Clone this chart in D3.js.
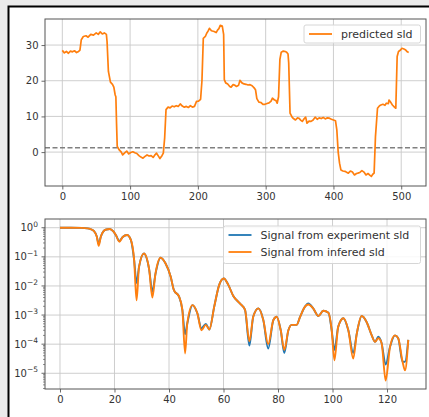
<!DOCTYPE html>
<html lang="en">

<head>
    <meta charset="UTF-8">
    <title>predicted sld</title>
    <style>
        * {
            margin: 0;
            padding: 0;
        }

        html,
        body {
            overflow: hidden;
            background: #ebebeb;
        }
    </style>
</head>

<body>
    <div id="chart"></div>
    <script src="https://cdn.jsdelivr.net/npm/d3@7"></script>
    <script>
        // top panel: predicted sld profile (sampled along the layer index)
        const sldIdx = [0, 3, 6, 9, 12, 15, 18, 21, 24, 26, 28, 31, 35, 38, 42, 46, 50, 53, 56, 59, 62, 65, 66, 68, 71, 74, 76, 78, 79, 80,
            81, 84, 87, 89, 92, 95, 98, 101, 104, 107, 110, 113, 116, 119, 122, 125, 128, 131, 134, 137, 139, 142, 144, 147, 149, 151,
            153, 156, 159, 162, 165, 168, 171, 174, 177, 180, 183, 186, 189, 192, 195, 198, 201, 204, 206, 208, 211, 213, 215, 217, 220,
            224, 227, 229, 231, 233, 236, 238, 239, 241, 244, 247, 249, 252, 254, 257, 260, 262, 265, 268, 271, 274, 277, 280, 283, 285,
            287, 290, 293, 296, 299, 302, 305, 308, 310, 313, 315, 317, 319, 321, 323, 326, 329, 331, 333, 334, 336, 339, 341, 344, 347,
            349, 352, 354, 357, 359, 361, 364, 367, 370, 373, 376, 379, 382, 385, 388, 391, 394, 397, 400, 403, 405, 407, 409, 411, 414,
            417, 420, 422, 425, 428, 431, 434, 436, 439, 442, 445, 448, 451, 454, 456, 458, 460, 462, 465, 468, 470, 473, 476, 478, 481,
            482, 485, 487, 490, 492, 494, 496, 499, 501, 504, 506, 509, 511]
        const sldVal = [28.5, 27.8, 28.2, 27.7, 28.3, 28.1, 28.4, 27.9, 28.2, 28.6, 31.5, 32.4, 32.6, 32.2, 33.0, 32.8, 33.4, 33.0, 33.7, 33.1,
            33.4, 33.0, 31.0, 22.6, 19.6, 19.0, 18.2, 16.0, 15.5, 8.0,
            1.6, 0.6, 0.0, -0.8, -0.2, 0.3, -0.5, -0.1, 0.1, -0.2, -0.4, -1.0, -1.4, -1.7, -1.2, -0.8, -1.1, -1.0, -1.5, -0.7, -0.3,
            -1.2, -1.8, -1.0, -0.3, 4.0,
            11.9, 12.6, 12.4, 12.9, 12.7, 13.0, 12.8, 13.5, 12.9, 12.6, 12.8, 12.5, 13.0, 12.6, 12.8, 14.2, 14.3, 14.8, 20.0, 31.9,
            32.4, 33.3, 33.9, 34.7, 34.0,
            33.8, 33.5, 34.2, 34.6, 35.5, 35.3, 33.0, 20.3, 19.4, 19.1, 18.4, 18.2, 18.9, 18.8, 18.4, 18.7, 20.1, 19.4, 19.1, 19.0,
            18.8, 18.9, 18.6, 18.0, 17.5,
            15.0, 14.0, 13.9, 13.4, 13.4, 13.6, 13.8, 14.3, 15.1, 14.6, 14.5, 13.7, 15.5, 26.0, 28.0, 28.3, 28.2, 28.0, 27.5, 25.0,
            10.9, 9.8, 9.4, 9.0, 9.6,
            9.5, 8.9, 8.6, 9.4, 9.8, 8.1, 8.7, 8.6, 9.0, 9.8, 9.2, 9.6, 9.4, 9.7, 9.3, 9.6, 9.5, 9.2, 9.0, 8.8, 6.2, 0.0, -3.1, -5.0,
            -5.3,
            -5.4, -5.7, -5.9, -5.3, -5.6, -6.4, -6.0, -5.9, -5.7, -5.2, -5.6, -6.4, -6.0, -6.5, -6.8, -6.2, -5.9, 4.4, 12.3, 13.0,
            13.2, 13.4, 13.1, 13.7, 13.6,
            14.6, 13.8, 13.2, 12.6, 12.3, 26.8, 28.2, 28.6, 29.1, 28.9, 28.7, 28.1, 27.9]
        const refLevel = 1.2

        // bottom panel: reflectivity signals
        const qIdx = [0, 4, 8, 10, 11, 12.5, 13.5, 14.2, 15, 16, 17, 18.3, 19.5, 20.5, 21.8, 23, 24.6, 26, 27.2, 28.1, 29, 30.8, 32.7,
            33.9, 35, 36.9, 38.7, 40.6, 41.8, 43.7, 44.9, 45.9, 46.7, 48.6, 50.4, 51.9, 53.5, 54.8, 56.6, 58.4, 60.1, 61.8, 63.6, 66,
            67.9, 69.5, 70.9, 72.8, 74.6, 76.4, 78.3, 79.5, 81, 82.3, 83.8, 85, 86.8, 88.1, 89.9, 91.1, 92.9, 94.8, 96.6, 98.5, 99.7,
            100.7, 102.1, 104, 105.8, 107.6, 108.9, 110.7, 112.5, 114.4, 115.6, 116.8, 118, 119.5, 121.1, 122.9, 124.1, 125.7, 126.6,
            127.8]
        const expSignal = [1, 1, 0.99, 0.955, 0.91, 0.76, 0.5, 0.28, 0.5, 0.76, 0.87, 0.91, 0.76, 0.56, 0.35, 0.48, 0.56, 0.38, 0.079,
            1.26e-2, 0.045, 0.13, 0.038, 6.3e-3, 0.025, 0.093, 0.060, 0.021, 7.2e-3, 4.3e-3, 1.5e-3, 2.2e-4, 5.1e-4, 2.2e-3, 1.15e-3,
            3.5e-4, 5.0e-4, 3.2e-4, 1.95e-3, 1.07e-2, 1.8e-2, 1.07e-2, 4.5e-3, 2.5e-3, 1.5e-3, 8.9e-5, 8.7e-4, 1.7e-3, 6.8e-4,
            7.1e-5, 6.8e-4, 8.7e-4, 3.0e-4, 5.0e-5, 3.0e-4, 4.6e-4, 4.6e-4, 8.7e-4, 1.95e-3, 2.5e-3, 1.7e-3, 9.3e-4, 1.4e-3,
            1.2e-3, 3.0e-4, 6.3e-5, 4.0e-4, 7.8e-4, 3.0e-4, 5.0e-5, 2.3e-4, 9.3e-4, 5.8e-4, 2.0e-4, 1.2e-4, 1.8e-4, 1.1e-4, 2.0e-5,
            8.1e-5, 2.0e-4, 1.6e-4, 2.5e-5, 2.5e-5, 1.4e-4]
        const infSignal = [1, 1, 0.99, 0.955, 0.91, 0.76, 0.5, 0.24, 0.5, 0.76, 0.87, 0.91, 0.76, 0.56, 0.33, 0.48, 0.56, 0.38, 0.079,
            3.2e-3, 0.045, 0.13, 0.038, 4.0e-3, 0.025, 0.093, 0.060, 0.021, 7.2e-3, 4.3e-3, 1.5e-3, 4.8e-5, 5.1e-4, 2.2e-3, 1.15e-3,
            3.0e-4, 4.6e-4, 3.2e-4, 1.95e-3, 1.07e-2, 1.8e-2, 1.07e-2, 4.5e-3, 2.5e-3, 1.5e-3, 1.26e-4, 8.7e-4, 1.7e-3, 6.8e-4,
            1.0e-4, 6.8e-4, 8.7e-4, 3.0e-4, 6.3e-5, 3.0e-4, 4.6e-4, 4.6e-4, 8.7e-4, 1.95e-3, 2.3e-3, 1.7e-3, 9.3e-4, 1.4e-3,
            1.2e-3, 3.0e-4, 2.8e-5, 4.0e-4, 7.8e-4, 3.0e-4, 3.2e-5, 2.3e-4, 9.3e-4, 5.8e-4, 2.0e-4, 1.2e-4, 1.6e-4, 1.1e-4, 5.6e-6,
            8.1e-5, 2.0e-4, 1.6e-4, 2.5e-5, 1.26e-5, 1.4e-4]

        const topXTicks = [0, 100, 200, 300, 400, 500]
        const topYTicks = [0, 10, 20, 30]
        const botXTicks = [0, 20, 40, 60, 80, 100, 120]
        const botYExp = [0, -1, -2, -3, -4, -5]

        const blue = '#1f77b4'
        const orange = '#ff7f0e'
        const gridColor = '#c8c8c8'
        const font = 'DejaVu Sans, sans-serif'

        function drawChart() {
            const width = 429
            const height = 417
            const svg = d3.select('#chart')
                .append('svg')
                .attr('width', width)
                .attr('height', height)
                .style('display', 'block')

            // white panel with a black border, running off the right/bottom edge
            svg.append('rect')
                .attr('x', 8.5).attr('y', 6.5)
                .attr('width', 440).attr('height', 430)
                .attr('fill', '#fff')
                .attr('stroke', '#000')
                .attr('stroke-width', 2)

            const L = 45, R = 426

            // ---------- top axes ----------
            const top = { t: 19, b: 186 }
            const x1 = d3.scaleLinear().domain([-25.55, 536.55]).range([L, R])
            const y1 = d3.scaleLinear().domain([-9.5, 37.3]).range([top.b, top.t])
            const g1 = svg.append('g')

            g1.selectAll('.vg').data(topXTicks).join('line')
                .attr('x1', d => x1(d)).attr('x2', d => x1(d))
                .attr('y1', top.t).attr('y2', top.b)
                .attr('stroke', gridColor).attr('stroke-width', 0.9)
            g1.selectAll('.hg').data(topYTicks).join('line')
                .attr('x1', L).attr('x2', R)
                .attr('y1', d => y1(d)).attr('y2', d => y1(d))
                .attr('stroke', gridColor).attr('stroke-width', 0.9)

            g1.append('line')
                .attr('x1', L).attr('x2', R)
                .attr('y1', y1(refLevel)).attr('y2', y1(refLevel))
                .attr('stroke', '#808080').attr('stroke-width', 1.5)
                .attr('stroke-dasharray', '5,2.5')

            const sld = sldIdx.map((d, i) => [d, sldVal[i]])
            g1.append('path')
                .datum(sld)
                .attr('fill', 'none')
                .attr('stroke', orange)
                .attr('stroke-width', 1.7)
                .attr('stroke-linejoin', 'round')
                .attr('d', d3.line().x(d => x1(d[0])).y(d => y1(d[1])))

            styleAxis(g1.append('g').attr('transform', `translate(0,${top.b})`)
                .call(d3.axisBottom(x1).tickValues(topXTicks).tickSize(3.5).tickPadding(3)))
            styleAxis(g1.append('g').attr('transform', `translate(${L},0)`)
                .call(d3.axisLeft(y1).tickValues(topYTicks).tickSize(3.5).tickPadding(3)))
            spines(g1, L, R, top.t, top.b)

            legend(svg, 304, 25, 116.5, 18, [{ label: 'predicted sld', color: orange }])

            // ---------- bottom axes ----------
            const bot = { t: 219, b: 389 }
            const x2 = d3.scaleLinear().domain([-5.5, 134.3]).range([L, R])
            const y2 = d3.scaleLog().domain([Math.pow(10, -5.54), Math.pow(10, 0.3)]).range([bot.b, bot.t])
            const g2 = svg.append('g')
            const botYTicks = botYExp.map(e => Math.pow(10, e))

            g2.selectAll('.vg').data(botXTicks).join('line')
                .attr('x1', d => x2(d)).attr('x2', d => x2(d))
                .attr('y1', bot.t).attr('y2', bot.b)
                .attr('stroke', gridColor).attr('stroke-width', 0.9)
            g2.selectAll('.hg').data(botYTicks).join('line')
                .attr('x1', L).attr('x2', R)
                .attr('y1', d => y2(d)).attr('y2', d => y2(d))
                .attr('stroke', gridColor).attr('stroke-width', 0.9)

            const sigLine = d3.line().curve(d3.curveMonotoneX)
            g2.append('path')
                .datum(qIdx.map((d, i) => [x2(d), y2(expSignal[i])]))
                .attr('fill', 'none').attr('stroke', blue).attr('stroke-width', 1.9)
                .attr('d', sigLine)
            g2.append('path')
                .datum(qIdx.map((d, i) => [x2(d), y2(infSignal[i])]))
                .attr('fill', 'none').attr('stroke', orange).attr('stroke-width', 1.9)
                .attr('d', sigLine)

            styleAxis(g2.append('g').attr('transform', `translate(0,${bot.b})`)
                .call(d3.axisBottom(x2).tickValues(botXTicks).tickSize(3.5).tickPadding(3)))

            // minor ticks of the log axis
            const minor = []
            for (let e = -6; e <= 0; e++) {
                for (let k = 2; k <= 9; k++) {
                    const v = k * Math.pow(10, e)
                    if (y2(v) >= bot.t && y2(v) <= bot.b) minor.push(v)
                }
            }
            g2.selectAll('.mt').data(minor).join('line')
                .attr('x1', L - 2).attr('x2', L)
                .attr('y1', d => y2(d)).attr('y2', d => y2(d))
                .attr('stroke', '#444').attr('stroke-width', 0.6)
            g2.selectAll('.yt').data(botYTicks).join('line')
                .attr('x1', L - 3.5).attr('x2', L)
                .attr('y1', d => y2(d)).attr('y2', d => y2(d))
                .attr('stroke', '#444').attr('stroke-width', 0.8)

            const lab = g2.selectAll('.yl').data(botYExp).join('text')
                .attr('x', L - 7)
                .attr('y', d => y2(Math.pow(10, d)) + 3.6)
                .attr('text-anchor', 'end')
                .attr('font-family', font)
                .attr('font-size', 10)
                .attr('fill', '#333')
            lab.append('tspan').text('10')
            lab.append('tspan')
                .attr('font-size', 7.5)
                .attr('dy', -4.5)
                .text(d => d === 0 ? '0' : '\u2212' + Math.abs(d))

            spines(g2, L, R, bot.t, bot.b)

            legend(svg, 223.5, 226, 197, 37.5, [
                { label: 'Signal from experiment sld', color: blue },
                { label: 'Signal from infered sld', color: orange }
            ])
        }

        function styleAxis(sel) {
            sel.select('.domain').remove()
            sel.selectAll('.tick line').attr('stroke', '#444').attr('stroke-width', 0.8)
            sel.selectAll('.tick text')
                .attr('font-family', font)
                .attr('font-size', 10)
                .attr('fill', '#333')
        }

        function spines(g, l, r, t, b) {
            g.append('rect')
                .attr('x', l).attr('y', t)
                .attr('width', r - l).attr('height', b - t)
                .attr('fill', 'none')
                .attr('stroke', '#555')
                .attr('stroke-width', 1)
        }

        function legend(svg, x, y, w, h, items) {
            const g = svg.append('g').attr('transform', `translate(${x},${y})`)
            g.append('rect')
                .attr('width', w).attr('height', h)
                .attr('rx', 2)
                .attr('fill', '#fff').attr('fill-opacity', 0.85)
                .attr('stroke', '#d6d6d6')
            items.forEach((it, i) => {
                const cy = 9 + i * 17
                g.append('line')
                    .attr('x1', 5).attr('x2', 28)
                    .attr('y1', cy).attr('y2', cy)
                    .attr('stroke', it.color).attr('stroke-width', 1.8)
                g.append('text')
                    .attr('x', 37).attr('y', cy + 4)
                    .attr('font-family', font)
                    .attr('font-size', 11)
                    .attr('fill', '#333')
                    .text(it.label)
            })
        }

        drawChart()
    </script>
</body>

</html>
